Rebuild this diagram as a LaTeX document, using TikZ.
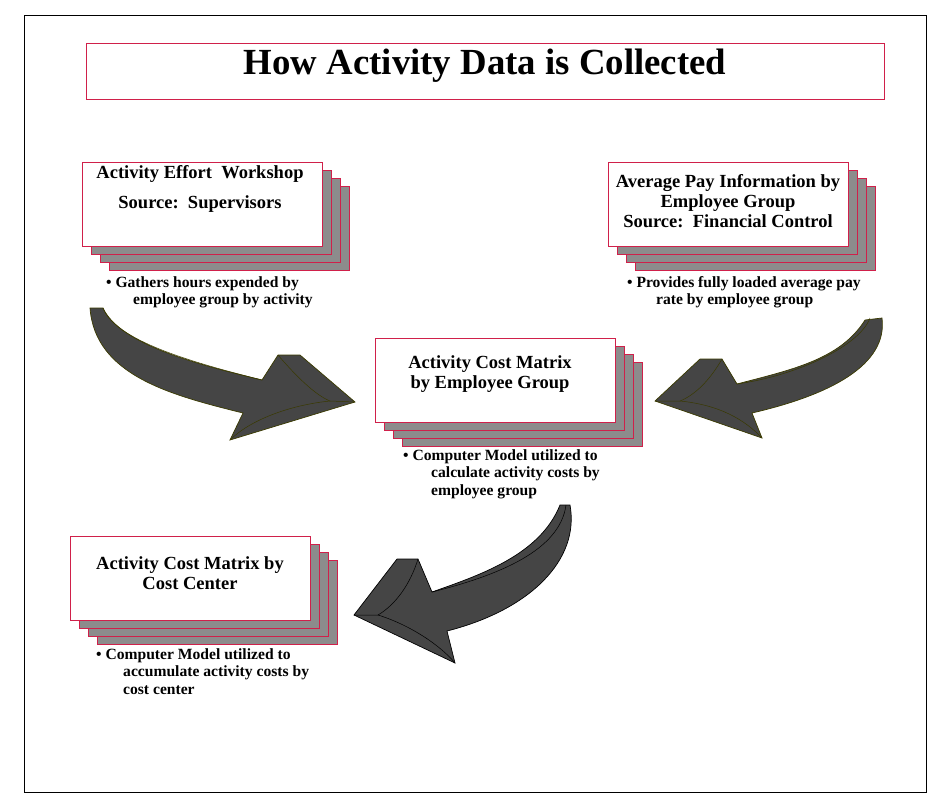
\documentclass[tikz,border=0pt]{standalone}
\usepackage{fontspec}
\setmainfont{Liberation Serif}
\definecolor{bred}{HTML}{D0204A}
\definecolor{lay}{HTML}{8C8C8C}
\definecolor{arr}{HTML}{454545}
\definecolor{olive}{HTML}{3A3A00}
\begin{document}
\begin{tikzpicture}[x=1pt,y=-1pt,
  txt/.style={font=\fontsize{18.5}{20}\selectfont\bfseries, inner sep=0pt},
  fr/.style={draw=bred, line width=0.8pt, fill=white},
  ly/.style={draw=bred, line width=0.8pt, fill=lay},
  arrw/.style={fill=arr, draw=olive, line width=0.7pt}]
\useasboundingbox (0,0) rectangle (950,808);
\draw[line width=0.6pt] (24,15) rectangle (926,792);
\draw[fr] (86,43) rectangle (884,99);
\node[font=\fontsize{36.8}{40}\selectfont\bfseries] (title) at (485,66) {How Activity Data is Collected};
% stacked boxes
\newcommand{\stackbox}[4]{%
  \draw[ly] (#1+27,#2+24) rectangle (#3+27,#4+24);
  \draw[ly] (#1+18,#2+16) rectangle (#3+18,#4+16);
  \draw[ly] (#1+9,#2+8) rectangle (#3+9,#4+8);
  \draw[fr] (#1,#2) rectangle (#3,#4);}
\stackbox{82}{162}{322}{246}
\stackbox{608}{162}{848}{246}
\stackbox{375}{338}{615}{422}
\stackbox{70}{536}{310}{620}
% box texts
\node[txt] (a1) at (200,174) {Activity Effort\ \ Workshop};
\node[txt] (a2) at (200,204) {Source:\ \ Supervisors};
\node[txt,align=center] (b1) at (728,201) {Average Pay Information by\\Employee Group\\Source:\ \ Financial Control};
\node[txt,align=center] (c1) at (490,374) {Activity Cost Matrix\\by Employee Group};
\node[txt,align=center] (d1) at (190,573) {Activity Cost Matrix by\\Cost Center};
% bullets
\tikzset{bl/.style={font=\fontsize{15.6}{17.5}\selectfont\bfseries, inner sep=0pt, anchor=north west, align=left}}
\node[bl] (ba) at (106,276) {• Gathers hours expended by\\\hspace*{27pt}employee group by activity};
\node[bl] (bb) at (627,276) {• Provides fully loaded average pay\\\hspace*{29pt}rate by employee group};
\node[bl] (bc) at (403,449) {• Computer Model utilized to\\\hspace*{28pt}calculate activity costs by\\\hspace*{28pt}employee group};
\node[bl] (bd) at (96,648) {• Computer Model utilized to\\\hspace*{27pt}accumulate activity costs by\\\hspace*{27pt}cost center};
% arrows
\draw[arrw] (90,308) -- (103,308) .. controls (120,345) and (200,365) .. (262,380) -- (278,355) -- (300,355) -- (355,402) -- (230,440) -- (243,413) .. controls (170,395) and (95,375) .. (90,308) -- cycle;
\draw[olive, line width=0.5pt] (103,308) .. controls (115,340) and (190,362) .. (262,380);
\draw[olive, line width=0.5pt] (278,355) .. controls (295,375) and (315,395) .. (330,401) -- (355,402);
\draw[olive, line width=0.5pt] (330,401) .. controls (290,405) and (250,420) .. (230,440);
\draw[arrw] (882,318) -- (865,320) .. controls (840,360) and (790,370) .. (737,384) -- (722,359) -- (700,359) -- (655,401) -- (762,438) -- (752,413) .. controls (830,395) and (888,365) .. (882,318) -- cycle;
\draw[olive, line width=0.5pt] (722,359) .. controls (710,380) and (695,395) .. (680,401) -- (655,401);
\draw[olive, line width=0.5pt] (680,401) .. controls (720,405) and (745,420) .. (762,438);
\draw[olive, line width=0.5pt] (737,384) .. controls (800,375) and (860,345) .. (870,318);
\draw[arrw, draw=black] (570,505) -- (560,505) .. controls (540,555) and (480,575) .. (432,592) -- (418,559) -- (397,559) -- (354,615) -- (455,663) -- (447,631) .. controls (530,610) and (580,560) .. (570,505) -- cycle;
\draw[line width=0.5pt] (418,559) .. controls (410,585) and (395,605) .. (378,615) -- (354,615);
\draw[line width=0.5pt] (378,615) .. controls (410,625) and (440,645) .. (455,663);
\draw[line width=0.5pt] (432,592) .. controls (500,575) and (560,550) .. (566,505);
\end{tikzpicture}
\end{document}
